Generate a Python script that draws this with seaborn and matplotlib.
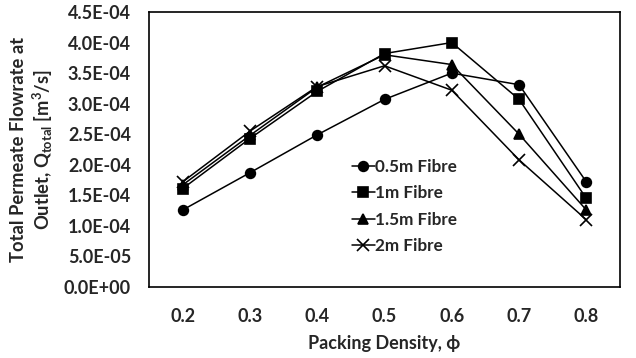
import matplotlib
matplotlib.use("Agg")
import matplotlib.pyplot as plt
import seaborn as sns
import pandas as pd
import numpy as np
from matplotlib.ticker import MultipleLocator, FixedLocator

packing = ["0.2", "0.3", "0.4", "0.5", "0.6", "0.7", "0.8"]
fibre_05 = [1.26e-4, 1.87e-4, 2.49e-4, 3.07e-4, 3.50e-4, 3.31e-4, 1.72e-4]
fibre_1 = [1.61e-4, 2.43e-4, 3.20e-4, 3.82e-4, 4.00e-4, 3.07e-4, 1.45e-4]
fibre_15 = [1.67e-4, 2.48e-4, 3.27e-4, 3.80e-4, 3.64e-4, 2.50e-4, 1.26e-4]
fibre_2 = [1.72e-4, 2.55e-4, 3.28e-4, 3.62e-4, 3.22e-4, 2.08e-4, 1.10e-4]
series_names = ["0.5m Fibre", "1m Fibre", "1.5m Fibre", "2m Fibre"]
ytick_labels = ["0.0E+00", "5.0E-05", "1.0E-04", "1.5E-04", "2.0E-04",
                "2.5E-04", "3.0E-04", "3.5E-04", "4.0E-04", "4.5E-04"]

sns.set_style("white")
plt.rcParams['font.family'] = ['Lato', 'DejaVu Sans']
plt.rcParams['font.weight'] = 'bold'
plt.rcParams['mathtext.fontset'] = 'custom'
plt.rcParams['mathtext.rm'] = 'Lato:bold'
plt.rcParams['mathtext.it'] = 'Lato:bold'
plt.rcParams['mathtext.bf'] = 'Lato:bold'

rows = []
for name, vals in zip(series_names, [fibre_05, fibre_1, fibre_15, fibre_2]):
    for i, v in enumerate(vals):
        rows.append({"idx": i, "val": v, "series": name})
df = pd.DataFrame(rows)

fig = plt.figure(figsize=(6.36, 3.58), dpi=100)
ax = fig.add_axes([149/636, 1-287/358, (620-149)/636, (287-12)/358])

markers = {"0.5m Fibre": "o", "1m Fibre": "s", "1.5m Fibre": "^", "2m Fibre": "x"}
sizes = {"0.5m Fibre": 7, "1m Fibre": 7, "1.5m Fibre": 7, "2m Fibre": 8}
for name in series_names:
    sub = df[df.series == name]
    sns.lineplot(data=sub, x="idx", y="val", ax=ax, color="black", lw=1.1,
                 marker=markers[name], markersize=sizes[name],
                 markeredgecolor="black", markerfacecolor="black",
                 markeredgewidth=1.2, label=name)

ax.set_xlim(-0.5, 6.5)
ax.set_ylim(0, 4.5e-4)
ax.set_xticks(range(len(packing)))
ax.set_xticklabels(packing, fontsize=13, fontweight='bold')
ax.xaxis.set_minor_locator(FixedLocator(np.arange(-0.5, 6.6, 1.0)))
ax.set_yticks(np.arange(0, 4.51e-4, 5e-5))
ax.yaxis.set_minor_locator(MultipleLocator(1e-5))
ax.set_yticklabels(ytick_labels, fontsize=13, fontweight='bold')
ax.tick_params(axis='both', which='both', direction='in', color='black')
ax.tick_params(axis='y', which='major', length=5, width=1.2, pad=13)
ax.tick_params(axis='y', which='minor', length=3.5, width=1.2)
ax.tick_params(axis='x', which='both', length=4, width=1.2, pad=15)
for s in ax.spines.values():
    s.set_color('black')
    s.set_linewidth(1.2)

ax.set_xlabel("Packing Density, ϕ", fontsize=13, fontweight='bold', labelpad=7)
ax.set_ylabel("Total Permeate Flowrate at\nOutlet, Q$_{\\mathrm{total}}$ [m$^{\\mathrm{3}}$/s]",
              fontsize=13.2, fontweight='bold', labelpad=6, linespacing=1.25)

leg = ax.legend(loc='upper left', bbox_to_anchor=(0.43, 0.465), frameon=False,
                fontsize=12.3, handlelength=1.35, handletextpad=0.05,
                labelspacing=0.6, borderaxespad=0, borderpad=0)
for t in leg.get_texts():
    t.set_fontweight('bold')

fig.savefig("out.png", dpi=100)
